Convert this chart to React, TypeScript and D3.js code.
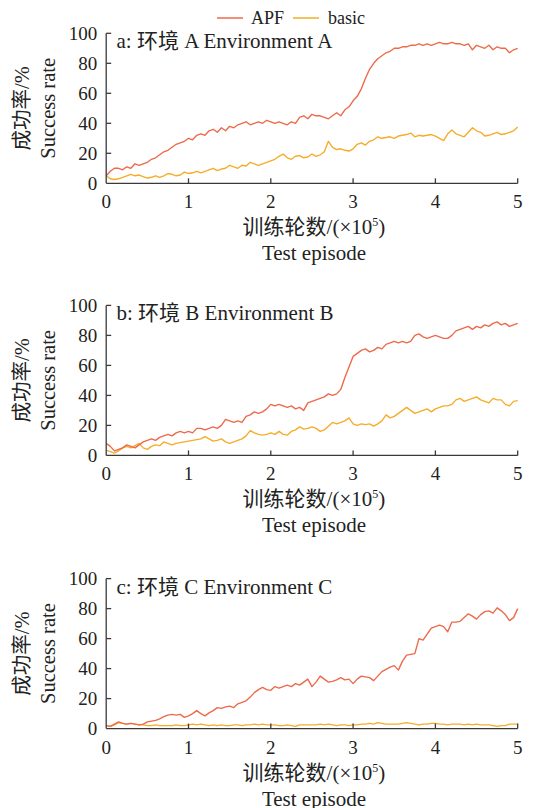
import React from "react";
import * as d3 from "d3";

const X_TICKS = [0, 1, 2, 3, 4, 5];
const Y_TICKS = [0, 20, 40, 60, 80, 100];
const SERIES_NAMES = ["APF", "basic"];
const PANEL_TITLES = ["a: 环境 A Environment A", "b: 环境 B Environment B", "c: 环境 C Environment C"];
const X_LABEL_CN = "训练轮数/(×10";
const X_LABEL_EN = "Test episode";
const Y_LABEL_CN = "成功率/%";
const Y_LABEL_EN = "Success rate";

// x = 0, 0.05, ..., 5.0 (×10^5 episodes)
const APF_A = [
  5, 8, 10, 10, 9, 11, 10, 13, 12, 13,
  14, 16, 17, 19, 21, 22, 24, 26, 27, 28,
  30, 29, 32, 33, 32, 35, 36, 34, 37, 35,
  38, 37, 39, 40, 41, 39, 40, 41, 40, 42,
  41, 40, 41, 40, 39, 41, 40, 44, 45, 43,
  46, 45, 45, 44, 43, 45, 47, 45, 49, 51,
  55, 58, 63, 70, 76, 80, 83, 85, 87, 88,
  90, 90, 91, 91, 92, 92, 93, 92, 93, 92,
  93, 94, 93, 93, 94, 93, 93, 92, 93, 89,
  92, 91, 90, 92, 89, 91, 90, 90, 87, 89,
  90,
];
const BASIC_A = [
  5, 3, 2.5, 3, 4, 5, 6, 5, 5.5, 4.5,
  3.5, 4, 5, 4, 5, 6.5, 6, 5, 5.5, 7.5,
  6.5, 7, 8, 7, 8, 9, 10, 8.5, 9.5, 10,
  12, 11, 10, 12, 11.5, 14, 13, 12, 13, 14,
  15, 16, 18, 19.5, 17, 16, 18, 18.5, 17, 17.5,
  19.5, 18, 19, 21, 28, 24, 22.5, 23, 22, 21.5,
  23, 26, 27, 25.5, 28, 29, 31, 30, 30.5, 31,
  30, 31.5, 32, 32.5, 33.5, 31, 32, 31.5, 32, 32.5,
  31.5, 30, 28.5, 33, 35.5, 33, 32, 31, 34, 37,
  35, 34, 31.5, 32, 33, 34, 32.5, 33, 34, 35,
  37.5,
];
const APF_B = [
  8, 6, 3, 4, 5, 7, 6, 5, 7, 9,
  10, 11, 10, 12, 13, 14, 13, 15, 16, 15,
  16, 15, 18, 18, 17, 18, 19, 18, 20, 24,
  23, 22, 23, 22, 26, 27, 29, 28, 29, 31,
  34, 33, 34, 33, 32, 33, 31, 32, 30, 35,
  36, 37, 38, 39, 41, 40, 41, 44, 52, 59,
  66, 68, 70, 71, 69, 70, 72, 71, 74, 75,
  76, 75, 76, 75, 76, 80, 81, 79, 78, 79,
  80, 79, 78, 78, 80, 83, 84, 85, 86, 84,
  86, 85, 87, 86, 88, 89, 87, 88, 86, 87,
  88,
];
const BASIC_B = [
  3.5, 2.5, 1.5, 3, 5, 6, 5, 6.5, 8, 5,
  4, 6, 7, 6.5, 9, 8, 7, 8, 8.5, 9,
  9.5, 10, 10.5, 11, 12.5, 11, 9.5, 10, 11, 9,
  8, 9, 10, 11, 13, 16.5, 15, 14, 13.5, 14,
  15, 14, 16, 14, 13.5, 16, 17, 19, 17.5, 18,
  19, 18, 16, 17, 19.5, 22, 21, 22, 23, 25,
  21, 20, 21, 20.5, 21, 19.5, 21, 23, 27, 25,
  26, 28, 30, 32, 30, 28, 29, 30, 31, 29,
  31, 32, 33, 33, 34, 37, 38, 36, 37, 38,
  39, 37, 36, 35, 38, 37, 37, 34, 33, 36,
  36.5,
];
const APF_C = [
  2, 1.5, 3, 4.5, 3.5, 3, 3.5, 3, 2.5, 3,
  4.5, 5, 5.5, 6.5, 8, 9, 9.5, 9, 9.5, 7.5,
  8.5, 10, 12, 10, 8.5, 10.5, 12, 14, 13.5, 14.5,
  15, 14, 16.5, 17.5, 18.5, 21, 24, 26, 27.5, 26,
  25.5, 28, 27, 28, 29, 28, 30, 29, 31, 33,
  28, 31, 35, 33, 31, 31.5, 32.5, 34, 32.5, 33,
  30, 33, 35, 34.5, 34, 32, 35, 38, 39.5, 41,
  42, 39, 45, 49, 49.5, 50, 60, 59, 63, 67,
  68, 69, 68, 64.5, 71, 71, 71.5, 74, 76.5, 75,
  73, 76, 78, 78.5, 77, 80.5, 78.5, 76, 72, 74,
  80,
];
const BASIC_C = [
  2, 1.5, 2.5, 4, 3.5, 3, 3.5, 3, 2.5, 2.5,
  2, 2, 2.5, 2, 2, 2, 2, 2.5, 2, 2,
  2.5, 3, 2.5, 3, 2.5, 2, 2.5, 2, 2.5, 2,
  2, 2.5, 2.5, 2, 2.5, 2.5, 3, 2.5, 3, 2.5,
  2.5, 2.5, 2, 2, 2.5, 2, 1.5, 2.5, 2.5, 2.5,
  2.5, 2.5, 3, 2.5, 3, 2.5, 2, 2.5, 2.5, 2,
  2.5, 2.5, 3, 3, 3.5, 3, 4, 3.5, 3, 3,
  3, 3, 3.5, 4, 3.5, 3, 2.5, 3, 3, 3.5,
  3.5, 3, 3, 2.5, 3, 3, 3, 2.5, 3, 2.5,
  3, 2.5, 2.5, 2.5, 2, 1.5, 2, 2, 3, 3,
  3,
];

const PANELS = [
  { apf: APF_A, basic: BASIC_A },
  { apf: APF_B, basic: BASIC_B },
  { apf: APF_C, basic: BASIC_C },
];

const COLORS = ["#EE6A4C", "#F6AC2B"];
const AXIS = "#3a3a3a";
const FONT = "'Liberation Serif', 'Times New Roman', 'Noto Sans CJK SC', serif";

const W = 536;
const H = 808;
const X0 = 106.2;
const X1 = 517.7;
const PANEL_BOTTOMS = [183.3, 455.4, 728.6];
const PH = 150;

function Panel({ idx }: { idx: number }) {
  const bottom = PANEL_BOTTOMS[idx];
  const top = bottom - PH;
  const x = d3.scaleLinear().domain([0, 5]).range([X0, X1]);
  const y = d3.scaleLinear().domain([0, 100]).range([bottom, top]);
  const data = PANELS[idx];
  const line = d3
    .line<number>()
    .x((_, i) => x(i * 0.05))
    .y((v) => y(v))
    .curve(d3.curveLinear);
  const midY = (top + bottom) / 2;
  return (
    <g>
      {/* series */}
      <path d={line(data.basic) || ""} fill="none" stroke={COLORS[1]} strokeWidth={1.4} strokeLinejoin="round" />
      <path d={line(data.apf) || ""} fill="none" stroke={COLORS[0]} strokeWidth={1.4} strokeLinejoin="round" />
      {/* axes */}
      <line x1={X0} x2={X0} y1={y(100)} y2={y(0)} stroke={AXIS} strokeWidth={1.3} />
      <line x1={X0} x2={X1} y1={y(0)} y2={y(0)} stroke={AXIS} strokeWidth={1.3} />
      {Y_TICKS.filter((t) => t > 0).map((t) => (
        <line key={"yt" + t} x1={X0} x2={X0 + 5} y1={y(t)} y2={y(t)} stroke={AXIS} strokeWidth={1.3} />
      ))}
      {X_TICKS.filter((t) => t > 0).map((t) => (
        <line key={"xt" + t} x1={x(t)} x2={x(t)} y1={y(0)} y2={y(0) - 5} stroke={AXIS} strokeWidth={1.3} />
      ))}
      {Y_TICKS.map((t) => (
        <text key={"yl" + t} x={X0 - 9} y={y(t) + 6.5} textAnchor="end" fontSize={19} fill="#222">
          {t}
        </text>
      ))}
      {X_TICKS.map((t) => (
        <text key={"xl" + t} x={x(t)} y={y(0) + 25} textAnchor="middle" fontSize={19} fill="#222">
          {t}
        </text>
      ))}
      {/* title */}
      <text x={116.5} y={top + 15} fontSize={21} fill="#222">
        {PANEL_TITLES[idx]}
      </text>
      {/* x label */}
      <text x={(X0 + X1) / 2 + 2} y={bottom + 51} textAnchor="middle" fontSize={21} fill="#222">
        {X_LABEL_CN}
        <tspan fontSize={12} dy={-8}>5</tspan>
        <tspan dy={8}>)</tspan>
      </text>
      <text x={(X0 + X1) / 2 + 2} y={bottom + 77} textAnchor="middle" fontSize={21} fill="#222">
        {X_LABEL_EN}
      </text>
      {/* y label */}
      <text transform={`translate(29,${midY}) rotate(-90)`} textAnchor="middle" fontSize={20.5} fill="#222">
        {Y_LABEL_CN}
      </text>
      <text transform={`translate(55,${midY}) rotate(-90)`} textAnchor="middle" fontSize={20.5} fill="#222">
        {Y_LABEL_EN}
      </text>
    </g>
  );
}

export default function App() {
  return (
    <svg
      width={W}
      height={H}
      viewBox={`0 0 ${W} ${H}`}
      style={{ position: "absolute", left: 0, top: 0, background: "#fff" }}
      fontFamily={FONT}
    >
      <rect width={W} height={H} fill="#fff" />
      {/* legend */}
      <g>
        <line x1={217} x2={243} y1={18} y2={18} stroke={COLORS[0]} strokeWidth={1.5} />
        <text x={251} y={24} fontSize={18} fill="#222">{SERIES_NAMES[0]}</text>
        <line x1={293} x2={319} y1={18} y2={18} stroke={COLORS[1]} strokeWidth={1.5} />
        <text x={328} y={24} fontSize={18} fill="#222">{SERIES_NAMES[1]}</text>
      </g>
      {[0, 1, 2].map((i) => (
        <Panel key={i} idx={i} />
      ))}
    </svg>
  );
}
